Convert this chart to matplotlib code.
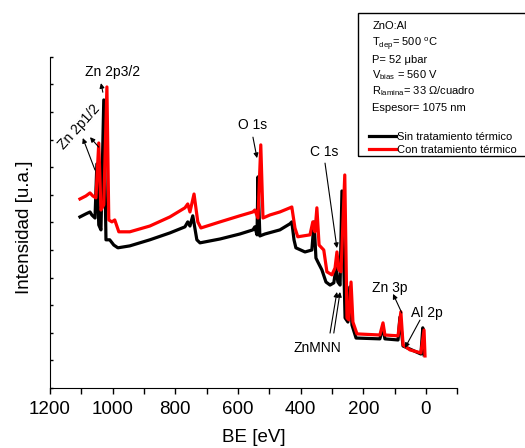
import numpy as np
import matplotlib
matplotlib.use('Agg')
import matplotlib.pyplot as plt
from matplotlib.patches import Rectangle

plt.rcParams['font.family'] = ['Liberation Sans', 'DejaVu Sans']
plt.rcParams['mathtext.fontset'] = 'custom'
plt.rcParams['mathtext.rm'] = 'Liberation Sans'

# XPS survey, sin tratamiento termico (negro)
be_sin = [1104, 1085, 1072, 1066, 1056, 1050, 1044, 1037, 1028, 1021, 1009, 996, 983,
          945, 881, 817, 769, 760, 753, 744, 731, 721, 657, 594, 552, 546, 539, 536,
          530, 514, 466, 434, 428, 421, 415, 386, 364, 357, 351, 345, 332, 319, 306,
          294, 287, 281, 274, 268, 258, 249, 243, 236, 223, 147, 137, 131, 89, 83,
          73, 51, 16, 10, 6]
int_sin = [6.20, 6.31, 6.38, 6.27, 6.16, 8.12, 5.91, 5.73, 10.44, 5.37, 5.37, 5.18, 5.08,
           5.15, 5.37, 5.62, 5.84, 6.02, 5.87, 6.24, 5.37, 5.26, 5.40, 5.58, 5.73, 5.84, 5.55, 7.65,
           5.51, 5.58, 5.73, 5.95, 6.02, 5.37, 5.08, 4.93, 5.00, 6.02, 4.71, 4.57, 4.28, 3.84, 3.73,
           3.81, 4.35, 3.84, 3.73, 7.14, 2.54, 2.39, 3.66, 2.28, 1.81, 1.78, 2.21, 1.78, 1.74, 2.57,
           1.52, 1.41, 1.23, 2.18, 1.20]

# con tratamiento termico (rojo)
be_con = [1104, 1085, 1072, 1063, 1053, 1044, 1037, 1028, 1018, 1012, 1002, 993, 980,
          945, 881, 817, 769, 760, 753, 740, 728, 718, 657, 594, 552, 546, 536, 527,
          520, 498, 466, 434, 428, 418, 409, 370, 361, 354, 348, 341, 326, 316, 300,
          290, 284, 278, 271, 259, 252, 246, 239, 233, 220, 147, 137, 131, 89, 80,
          73, 51, 16, 6, 3]
int_con = [6.85, 6.96, 7.07, 6.96, 6.89, 8.88, 6.45, 6.64, 10.91, 6.09, 6.02, 6.09, 5.66,
           5.66, 5.87, 6.20, 6.53, 6.67, 6.38, 7.03, 6.02, 5.80, 6.02, 6.24, 6.38, 6.45, 6.16, 8.81,
           6.16, 6.27, 6.38, 6.53, 6.56, 5.80, 5.48, 5.55, 6.02, 5.66, 6.53, 5.18, 5.00, 4.21, 4.10,
           4.35, 4.93, 4.28, 4.21, 7.72, 2.54, 2.47, 3.84, 2.39, 1.96, 1.92, 2.36, 1.92, 1.89, 2.76,
           1.56, 1.38, 1.27, 2.10, 1.16]

info_lines = ['ZnO:Al',
              r'T$_{\mathregular{dep}}$= 500 $^{\mathregular{o}}$C',
              'P= 52 \u03bcbar',
              r'V$_{\mathregular{bias}}$ = 560 V',
              r'R$_{\mathregular{lamina}}$= 33 ' + '\u03a9/cuadro',
              'Espesor= 1075 nm']

fig = plt.figure(figsize=(5.25, 4.48), dpi=100)
ax = fig.add_axes([0.095, 0.134, 0.776, 0.739])

l1, = ax.plot(be_sin, int_sin, color='black', lw=2.3)
l2, = ax.plot(be_con, int_con, color='red', lw=2.3)

ax.set_xlim(1200, -100)
ax.set_ylim(0, 12)
ax.set_xticks([1200, 1000, 800, 600, 400, 200, 0])
ax.set_xticks([1100, 900, 700, 500, 300, 100, -100], minor=True)
ax.set_yticks(np.arange(0, 13, 1))
ax.set_yticklabels([])
ax.tick_params(axis='x', which='both', direction='out', length=4, width=1, labelsize=13.5, pad=5.5)
ax.tick_params(axis='y', which='both', direction='in', length=2, width=1)
ax.spines['top'].set_visible(False)
ax.spines['right'].set_visible(False)
ax.set_xlabel('BE [eV]', fontsize=13.5)
ax.set_ylabel('Intensidad [u.a.]', fontsize=13.5)
ax.xaxis.set_label_coords(0.5, -0.125)
ax.yaxis.set_label_coords(-0.042, 0.485)

arr = dict(arrowstyle='-|>', color='black', lw=0.8, mutation_scale=7, shrinkA=0, shrinkB=0)

# (tail, head)
arrows = [((1031, 10.72), (1037, 11.05)),
          ((1056, 7.90), (1095, 9.06)),
          ((1044, 8.73), (1072, 9.09)),
          ((552, 9.09), (539, 8.33)),
          ((322, 8.15), (284, 5.07)),
          ((306, 1.99), (284, 3.48)),
          ((294, 1.99), (274, 3.48)),
          ((77, 2.72), (105, 3.41)),
          ((19, 2.46), (67, 1.45))]
for tail, head in arrows:
    ax.annotate('', xy=head, xytext=tail, arrowprops=arr)

ax.text(999, 11.45, 'Zn 2p3/2', fontsize=10, ha='center', va='center')
ax.text(1107, 9.45, 'Zn 2p1/2', fontsize=10, ha='center', va='center', rotation=48)
ax.text(552, 9.53, 'O 1s', fontsize=10, ha='center', va='center')
ax.text(326, 8.55, 'C 1s', fontsize=10, ha='center', va='center')
ax.text(348, 1.45, 'ZnMNN', fontsize=10, ha='center', va='center')
ax.text(115, 3.62, 'Zn 3p', fontsize=10, ha='center', va='center')
ax.text(-3, 2.72, 'Al 2p', fontsize=10, ha='center', va='center')

# info box
fig.patches.append(Rectangle((0.682, 0.652), 0.4, 0.319, transform=fig.transFigure,
                             fill=False, edgecolor='black', lw=1))
ys = [0.942, 0.902, 0.866, 0.833, 0.797, 0.759]
for y, s in zip(ys, info_lines):
    fig.text(0.709, y, s, fontsize=8, ha='left', va='center')

fig.legend([l1, l2], ['Sin tratamiento térmico', 'Con tratamiento térmico'],
           loc='upper left', bbox_to_anchor=(0.703, 0.706), frameon=False, fontsize=8,
           handlelength=2.4, handletextpad=0.15, borderpad=0, labelspacing=0.3,
           borderaxespad=0)

fig.savefig('out.png', dpi=100)
